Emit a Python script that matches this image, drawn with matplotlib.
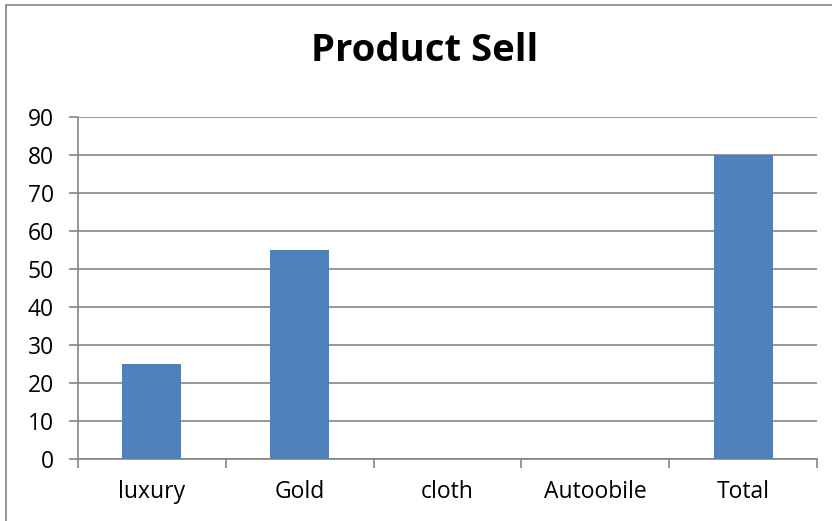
import matplotlib
matplotlib.use("Agg")
import matplotlib.pyplot as plt
from matplotlib.patches import Rectangle

categories = ["luxury", "Gold", "cloth", "Autoobile", "Total"]
values = [25, 55, 0, 0, 80]
title = "Product Sell"
yticks = list(range(0, 91, 10))

plt.rcParams['font.family'] = ['Open Sans', 'DejaVu Sans']

fig = plt.figure(figsize=(8.32, 5.21), dpi=100)
fig.patch.set_facecolor("white")

# outer chart frame (extends beyond the crop at right and bottom)
fig.add_artist(Rectangle((6/832, -0.1), 1.2, (521-4.5)/521 + 0.1,
                         transform=fig.transFigure, fill=False,
                         edgecolor="#8c8c8c", linewidth=1.3))

ax = fig.add_axes([78/832, (521-459)/521, (817-78)/832, (459-117)/521])
x = list(range(len(categories)))
ax.bar(x, values, width=0.4, color="#4F81BD", zorder=3)
ax.set_xlim(-0.5, len(categories) - 0.5)
ax.set_ylim(0, 90)
ax.set_yticks(yticks)
ax.set_yticklabels([str(t) for t in yticks])
ax.yaxis.grid(True, color="#868686", linewidth=1.2, zorder=0)
ax.set_axisbelow(True)

ax.set_xticks([i - 0.5 for i in range(len(categories) + 1)])
ax.set_xticklabels([])
ax.set_xticks(x, minor=True)
ax.set_xticklabels(categories, minor=True)
ax.tick_params(axis="x", which="minor", length=0, pad=15, labelsize=16.5)
ax.tick_params(axis="x", which="major", length=6.5, width=1.2, color="#868686")
ax.tick_params(axis="y", length=6.5, width=1.2, color="#868686", pad=11, labelsize=16.5)

for s in ["top", "right"]:
    ax.spines[s].set_visible(False)
for s in ["left", "bottom"]:
    ax.spines[s].set_color("#868686")
    ax.spines[s].set_linewidth(1.2)

fig.text(425/832, 1 - 51/521, title, ha="center", va="center",
         fontsize=27.5, fontweight="bold")

fig.savefig("out.png", dpi=100)
